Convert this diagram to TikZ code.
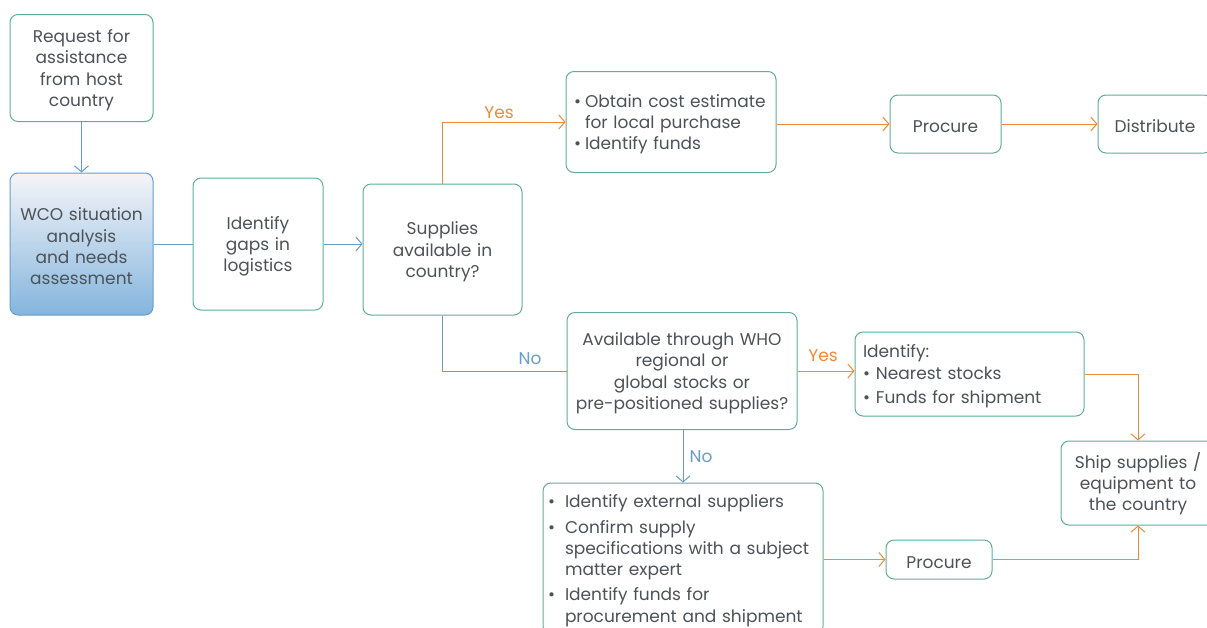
\documentclass[tikz,border=0pt]{standalone}
\usepackage{fontspec}
\setmainfont{Poppins}
\usetikzlibrary{arrows.meta}
\definecolor{teal1}{HTML}{5FAE9A}
\definecolor{blue1}{HTML}{6A9DC6}
\definecolor{orng}{HTML}{F08A35}
\definecolor{txt}{HTML}{4C5258}
\definecolor{wcotop}{HTML}{F5F5F8}
\definecolor{wcobot}{HTML}{84B5DE}
\newcommand\bul[1]{\makebox[#1][l]{\textbullet}}
\begin{document}
\begin{tikzpicture}[x=1pt,y=-1pt,
 box/.style={draw=teal1, line width=1pt, rounded corners=8pt, align=center, text=txt,
   font=\fontsize{17}{21.3}\selectfont, inner sep=0pt,
   execute at begin node={\rule{0pt}{17.5pt}}},
 conb/.style={draw=blue1, line width=1pt},
 cono/.style={draw=orng, line width=1pt},
 tip/.style={-{Straight Barb[length=6pt,width=14pt]}},
 lbl/.style={font=\fontsize{17}{21}\selectfont, inner sep=0pt}]
\useasboundingbox (0,0) rectangle (1207,627);
\clip (0,0) rectangle (1207,627);
\fill[white] (0,0) rectangle (1207,627);

\node[box, text width=135pt, minimum width=143pt, minimum height=107pt] (req) at (81.5,68)
  {Request for\\assistance\\from host\\country};
\node[box, text width=135pt, draw=blue1, top color=wcotop, bottom color=wcobot, minimum width=143pt, minimum height=142pt] (wco) at (81.5,244)
  {WCO situation\\analysis\\and needs\\assessment};
\node[box, text width=122pt, minimum width=130pt, minimum height=132pt] (gaps) at (258,244)
  {Identify\\gaps in\\logistics};
\node[box, text width=150pt, minimum width=159pt, minimum height=131pt] (sup) at (442.5,249.5)
  {Supplies\\available in\\country?};
\node[box, align=left, text width=200pt, minimum width=210pt, minimum height=101pt] (obt) at (671,122)
  {\hspace*{3pt}\bul{11pt}Obtain cost estimate\\\hspace*{14pt}for local purchase\\\hspace*{3pt}\bul{11pt}Identify funds};
\node[box, minimum width=111pt, minimum height=58pt] (proc1) at (945.5,124) {Procure};
\node[box, minimum width=114pt, minimum height=58pt] (dist) at (1155,124) {Distribute};
\node[box, text width=222pt, minimum width=230pt, minimum height=117pt] (avail) at (682,371)
  {Available through WHO\\regional or\\global stocks or\\pre-positioned supplies?};
\node[box, align=left, text width=213pt, minimum width=229pt, minimum height=84pt] (ident) at (969.5,374)
  {Identify:\\\bul{13pt}Nearest stocks\\[3pt]\bul{13pt}Funds for shipment};
\node[box, text width=146pt, minimum width=154pt, minimum height=84pt] (ship) at (1138,483)
  {Ship supplies /\\equipment to\\the country};
\node[box, align=left, text width=270pt, minimum width=280pt, minimum height=151pt] (list) at (683,558.5)
  {\bul{17pt}Identify external suppliers\\[4pt]
   \bul{17pt}Confirm supply\\\hspace*{17pt}specifications with a subject\\\hspace*{17pt}matter expert\\[4pt]
   \bul{17pt}Identify funds for\\\hspace*{17pt}procurement and shipment};
\node[box, minimum width=106pt, minimum height=39pt] (proc2) at (939,559.5) {Procure};

% connectors
\draw[conb,tip] (req) -- (wco);
\draw[conb] (wco) -- (gaps);
\draw[conb,tip] (gaps.east) -- (gaps.east -| sup.west);
\draw[cono,tip] (sup.north) |- (obt.west);
\draw[cono,tip] (proc1.west -| obt.east) -- (proc1.west);
\draw[cono,tip] (proc1) -- (dist);
\draw[conb] (sup.south) |- (avail.west);
\draw[cono,tip] (avail.east) -- (avail.east -| ident.west);
\draw[cono,tip] (ident.east) -| (ship.north);
\draw[conb,tip] (avail.south -| list.north) -- (list.north);
\draw[cono,tip] (proc2.west -| list.east) -- (proc2.west);
\draw[cono,tip] (proc2.east) -| (ship.south);

% labels
\node[lbl, text=orng] (yes1) at (499,113) {Yes};
\node[lbl, text=blue1] (no1) at (530,359) {No};
\node[lbl, text=orng] (yes2) at (823,356) {Yes};
\node[lbl, text=blue1] (no2) at (701,457) {No};
\end{tikzpicture}
\end{document}
